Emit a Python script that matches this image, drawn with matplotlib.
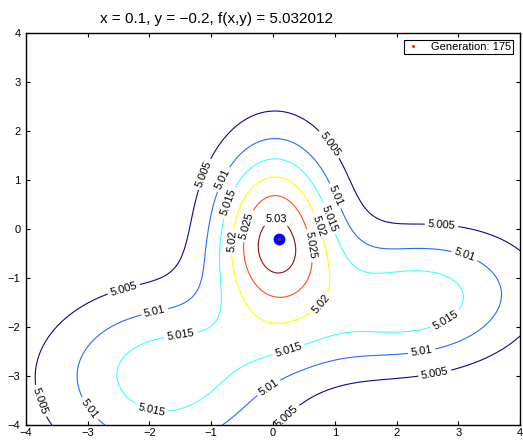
import numpy as np
import matplotlib.pyplot as plt

plt.rcParams['font.family'] = ['Liberation Sans', 'DejaVu Sans']
plt.rcParams['axes.unicode_minus'] = True

# best point of the GA run
best_x = 0.1
best_y = -0.2
best_f = 5.032012
generation = 175

# contour levels and the jet colours used for them
levels = [5.005, 5.01, 5.015, 5.02, 5.025, 5.03]
level_colors = ['#0a0a96', '#2a6aff', '#40ffff', '#ffff00', '#ff5010', '#8b1010']

# surface: base + gaussian bumps
# (peak, left lobe, right lobe, bridge)
base = 5.0
bump_amp = [0.0306, 0.0175, 0.018, 0.003]
bump_cx = [0.03, -1.8, 2.3, 0.2]
bump_cy = [-0.22, -2.95, -1.45, -2.4]
bump_sx = [0.7, 1.3, 1.3, 1.0]
bump_sy_up = [1.38, 1.15, 0.95, 0.6]
bump_sy_dn = [1.12, 1.35, 0.95, 0.6]
bump_rot = [0, 10, 10, 10]  # degrees

# where the contour labels sit
label_pos = [(-1.14, 1.13), (0.83, 1.65), (2.73, 0.1), (-2.43, -1.17), (-3.88, -3.56),
             (0.16, -3.74), (2.61, -2.88),
             (-0.84, 1.03), (1.02, 0.68), (3.1, -0.55), (2.4, -2.43), (-0.15, -3.09),
             (-1.93, -1.6), (-3.08, -3.77),
             (-0.73, 0.55), (0.89, 0.2), (2.73, -1.71), (0.24, -2.43), (-1.49, -2.16),
             (-1.98, -3.74),
             (-0.68, -0.25), (0.73, 0.06), (0.89, -1.65),
             (-0.41, 0.06), (0.57, -0.35),
             (0.05, 0.27)]

xg = np.linspace(-4, 4, 401)
yg = np.linspace(-4, 4, 401)
X, Y = np.meshgrid(xg, yg)
Z = np.full_like(X, base)
for a, cx, cy, sx, syu, syd, r in zip(bump_amp, bump_cx, bump_cy, bump_sx,
                                      bump_sy_up, bump_sy_dn, bump_rot):
    t = np.deg2rad(r)
    u = (X - cx) * np.cos(t) + (Y - cy) * np.sin(t)
    v = -(X - cx) * np.sin(t) + (Y - cy) * np.cos(t)
    sy = np.where(v > 0, syu, syd)
    Z += a * np.exp(-(u**2 / (2 * sx**2) + v**2 / (2 * sy**2)))

fig = plt.figure(figsize=(5.23, 4.4), dpi=100)
ax = fig.add_axes([0.0497, 0.0341, 0.9446, 0.891])

cs = ax.contour(X, Y, Z, levels=levels, colors=level_colors, linewidths=0.8)
ax.clabel(cs, fmt='%g', fontsize=8, inline=True, inline_spacing=3,
          colors='black', manual=label_pos)

ax.plot(best_x, best_y, 'o', color='blue', ms=7.5)
ax.plot(best_x, best_y, '.', color='red', ms=2, label='Generation: %d' % generation)

ax.set_xlim(-4, 4)
ax.set_ylim(-4, 4)
ax.set_xticks(np.arange(-4, 5, 1))
ax.set_yticks(np.arange(-4, 5, 1))
ax.tick_params(direction='in', top=True, right=True, length=3, labelsize=8)
ax.tick_params(axis='x', pad=2)
ax.tick_params(axis='y', pad=4)
for s in ax.spines.values():
    s.set_linewidth(1.0)

title = 'x = %g, y = %g, f(x,y) = %.6f' % (best_x, best_y, best_f)
ax.set_title(title.replace('-', '\u2212'), fontsize=11, pad=7, x=0.385)

leg = ax.legend(loc='upper right', fontsize=8, fancybox=False, edgecolor='black',
                framealpha=1, handlelength=1.2, borderpad=0.2, borderaxespad=0.6,
                handletextpad=1.0)
leg.get_frame().set_linewidth(0.8)

fig.savefig('out.png', dpi=100)
